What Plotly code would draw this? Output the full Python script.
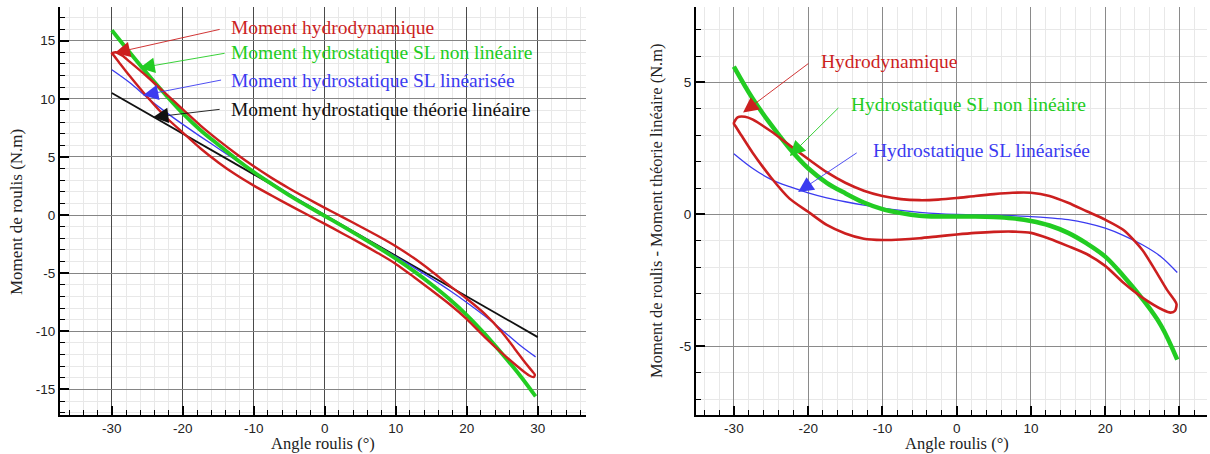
import plotly.graph_objects as go

# ---------------- data ----------------
# Left panel: roll moment (N.m) vs roll angle (deg)
lin_x = [-30, 30]
lin_y = [10.5, -10.5]

sl_x = [-30, -27.5, -25, -22.5, -20, -17.5, -15, -12.5, -10, -7.5, -5, -2.5, 0,
        2.5, 5, 7.5, 10, 12.5, 15, 17.5, 20, 22.5, 25, 27.5, 29.7]
slnl_y = [15.9, 14.0, 12.15, 10.4, 8.75, 7.3, 6.05, 4.83, 3.7, 2.68, 1.7, 0.8, -0.08,
          -0.95, -1.85, -2.78, -3.75, -4.8, -5.95, -7.2, -8.6, -10.2, -11.95, -13.8, -15.6]
sllin_y = [12.5, 11.4, 10.1, 8.9, 7.8, 6.75, 5.73, 4.72, 3.74, 2.78, 1.83, 0.9, 0.0,
           -0.9, -1.78, -2.68, -3.58, -4.5, -5.45, -6.45, -7.52, -8.67, -9.9, -11.2, -12.2]

hyd_x = [-30, -29.5, -28.5, -27.5, -25, -22.5, -20, -17.5, -15, -12.5, -10, -7.5, -5, -2.5, 0,
         2.5, 5, 7.5, 10, 12.5, 15, 17.5, 20, 22.5, 25, 26.7, 28.3, 29.2, 29.6,
         29.4, 28.8, 27.8, 25, 22.5, 20, 17.5, 15, 12.5, 10, 7.5, 5, 2.5, 0,
         -2.5, -5, -7.5, -10, -12.5, -15, -17.5, -20, -22.5, -25, -27.5, -29, -29.8, -30]
hyd_y = [13.9, 14.0, 13.7, 13.2, 11.9, 10.5, 9.1, 7.7, 6.45, 5.28, 4.2, 3.2, 2.29, 1.44, 0.62,
         -0.18, -0.98, -1.8, -2.68, -3.68, -4.81, -6.03, -7.2, -8.48, -10.1, -11.45, -12.75, -13.42, -13.76,
         -13.94, -13.8, -13.35, -11.9, -10.48, -8.95, -7.63, -6.45, -5.3, -4.2, -3.28, -2.41, -1.58, -0.76,
         0.05, 0.85, 1.68, 2.53, 3.46, 4.53, 5.73, 7.1, 8.48, 10.15, 11.98, 13.15, 13.78, 13.9]

# Right panel: roll moment minus linear-theory moment (N.m)
dslnl_y = [5.6, 4.4, 3.4, 2.5, 1.75, 1.2, 0.8, 0.45, 0.2, 0.05, -0.05, -0.08, -0.08,
           -0.08, -0.1, -0.15, -0.25, -0.42, -0.7, -1.1, -1.6, -2.35, -3.2, -4.2, -5.5]
dsllin_y = [2.3, 1.75, 1.33, 1.05, 0.82, 0.63, 0.48, 0.35, 0.24, 0.15, 0.08, 0.03, 0.0,
            -0.02, -0.03, -0.05, -0.08, -0.13, -0.2, -0.33, -0.52, -0.8, -1.15, -1.6, -2.2]
dhyd_y = [3.45, 3.68, 3.7, 3.6, 3.15, 2.62, 2.1, 1.6, 1.2, 0.9, 0.7, 0.58, 0.54, 0.56, 0.62,
          0.7, 0.77, 0.82, 0.82, 0.7, 0.44, 0.12, -0.2, -0.6, -1.35, -2.1, -2.85, -3.2, -3.4,
          -3.65, -3.72, -3.62, -3.15, -2.6, -1.95, -1.5, -1.2, -0.92, -0.7, -0.65, -0.66, -0.7, -0.76,
          -0.83, -0.9, -0.95, -0.97, -0.92, -0.72, -0.4, 0.1, 0.6, 1.4, 2.35, 3.0, 3.35, 3.45]

left_labels = ["Moment hydrodynamique", "Moment hydrostatique SL non linéaire",
               "Moment hydrostatique SL linéarisée", "Moment hydrostatique théorie linéaire"]
right_labels = ["Hydrodynamique", "Hydrostatique SL non linéaire", "Hydrostatique SL linéarisée"]

x_ticks = [-30, -20, -10, 0, 10, 20, 30]
x_ticktext = ["-30", "-20", "-10", "0", "10", "20", "30"]
yl_ticks = [-15, -10, -5, 0, 5, 10, 15]
yl_ticktext = ["-15", "-10", "-5", "0", "5", "10", "15"]
yr_ticks = [-5, 0, 5]
yr_ticktext = ["-5", "0", "5"]

RED = "#cc1f1f"
GREEN = "#22cc22"
BLUE = "#3b3bf0"
BLACK = "#111111"
SERIF = "Liberation Serif, Times New Roman, serif"
SANS = "Liberation Sans, Arial, sans-serif"

fig = go.Figure()

# left panel
fig.add_trace(go.Scatter(x=lin_x, y=lin_y, mode="lines", line=dict(color=BLACK, width=1.8),
                         xaxis="x", yaxis="y", showlegend=False))
fig.add_trace(go.Scatter(x=sl_x, y=sllin_y, mode="lines", line=dict(color=BLUE, width=1.3, shape="spline"),
                         xaxis="x", yaxis="y", showlegend=False))
fig.add_trace(go.Scatter(x=sl_x, y=slnl_y, mode="lines", line=dict(color=GREEN, width=3.8, shape="spline"),
                         xaxis="x", yaxis="y", showlegend=False))
fig.add_trace(go.Scatter(x=hyd_x, y=hyd_y, mode="lines", line=dict(color=RED, width=2.4, shape="spline", smoothing=0.7),
                         xaxis="x", yaxis="y", showlegend=False))

# right panel
fig.add_trace(go.Scatter(x=sl_x, y=dsllin_y, mode="lines", line=dict(color=BLUE, width=1.3, shape="spline"),
                         xaxis="x2", yaxis="y2", showlegend=False))
fig.add_trace(go.Scatter(x=sl_x, y=dslnl_y, mode="lines", line=dict(color=GREEN, width=4.5, shape="spline"),
                         xaxis="x2", yaxis="y2", showlegend=False))
fig.add_trace(go.Scatter(x=hyd_x, y=dhyd_y, mode="lines", line=dict(color=RED, width=2.6, shape="spline", smoothing=0.7),
                         xaxis="x2", yaxis="y2", showlegend=False))


def axis(domain, rng, tv, tt, mdtick, gridcolor, anchor):
    return dict(domain=domain, range=rng, tickmode="array", tickvals=tv, ticktext=tt, anchor=anchor,
                automargin=False,
                ticks="inside", ticklen=9, tickwidth=2, tickcolor="black",
                showline=True, linewidth=2, linecolor="black", mirror=False,
                showgrid=True, gridcolor=gridcolor, gridwidth=1, zeroline=False,
                tickfont=dict(family=SANS, size=13.5, color="#222"),
                minor=dict(dtick=mdtick, tick0=0, ticks="inside", ticklen=5, tickwidth=1, tickcolor="black",
                           showgrid=True, gridcolor="#e8e8e8", gridwidth=1))


ydom = [0.0859, 0.9846]
fig.update_layout(
    width=1210, height=454,
    margin=dict(l=0, r=0, t=0, b=0, autoexpand=False),
    paper_bgcolor="white", plot_bgcolor="white",
    xaxis=axis([0.0496, 0.4843], [-37.3, 36.8], x_ticks, x_ticktext, 2, "#4a4a4a", "y"),
    yaxis=axis(ydom, [-17.2, 17.9], yl_ticks, yl_ticktext, 1, "#858585", "x"),
    xaxis2=axis([0.5752, 0.9975], [-35.1, 33.7], x_ticks, x_ticktext, 2, "#8a8a8a", "y2"),
    yaxis2=axis(ydom, [-7.6, 7.86], yr_ticks, yr_ticktext, 1, "#8a8a8a", "x2"),
)

ann = []
# axis titles
ann += [
    dict(text="Angle roulis (°)", xref="paper", yref="paper", x=323 / 1210, y=1 - 443 / 454,
         xanchor="center", yanchor="middle",
         showarrow=False, font=dict(family=SERIF, size=16.5, color="#222")),
    dict(text="Moment de roulis (N.m)", xref="paper", yref="paper", x=16 / 1210, y=1 - 212 / 454,
         xanchor="center", yanchor="middle",
         textangle=-90, showarrow=False, font=dict(family=SERIF, size=17, color="#222")),
    dict(text="Angle roulis (°)", xref="paper", yref="paper", x=957 / 1210, y=1 - 443 / 454,
         xanchor="center", yanchor="middle",
         showarrow=False, font=dict(family=SERIF, size=16.5, color="#222")),
    dict(text="Moment de roulis - Moment théorie linéaire (N.m)", xref="paper", yref="paper",
         x=656 / 1210, y=1 - 210 / 454, xanchor="center", yanchor="middle",
         textangle=-90, showarrow=False, font=dict(family=SERIF, size=16.5, color="#222")),
]

# left labels and arrows
left_cols = [RED, GREEN, BLUE, BLACK]
left_text_y = [16.1, 14.0, 11.55, 9.05]
left_tip = [(-29.6, 13.95), (-26.1, 12.65), (-25.6, 10.3), (-24.2, 8.42)]
left_tail = [(-14.6, 16.0), (-13.9, 13.94), (-14.4, 11.64), (-14.6, 9.11)]
for lab, c, ty, tip, tail in zip(left_labels, left_cols, left_text_y, left_tip, left_tail):
    ann.append(dict(text=lab, xref="x", yref="y", x=-13.5, y=ty, xanchor="left", yanchor="middle",
                    showarrow=False, font=dict(family=SERIF, size=19.5, color=c)))
    ann.append(dict(text="", xref="x", yref="y", axref="x", ayref="y", x=tip[0], y=tip[1],
                    ax=tail[0], ay=tail[1], showarrow=True, arrowhead=2, arrowsize=3.4,
                    arrowwidth=0.9, arrowcolor=c))

right_cols = [RED, GREEN, BLUE]
right_text = [(-18.5, 5.8), (-14.5, 4.18), (-11.55, 2.44)]
right_tip = [(-28.76, 3.86), (-22.47, 2.21), (-21.35, 0.85)]
right_tail = [(-19.77, 5.76), (-15.73, 4.09), (-13.26, 2.37)]
for lab, c, tp, tip, tail in zip(right_labels, right_cols, right_text, right_tip, right_tail):
    ann.append(dict(text=lab, xref="x2", yref="y2", x=tp[0], y=tp[1], xanchor="left", yanchor="middle",
                    showarrow=False, font=dict(family=SERIF, size=19.5, color=c)))
    ann.append(dict(text="", xref="x2", yref="y2", axref="x2", ayref="y2", x=tip[0], y=tip[1],
                    ax=tail[0], ay=tail[1], showarrow=True, arrowhead=2, arrowsize=3.4,
                    arrowwidth=0.9, arrowcolor=c))

fig.update_layout(annotations=ann)
fig.write_html("out.html", config={"displayModeBar": False},
               post_script="document.body.style.margin='0';document.body.style.padding='0';"
                           "document.body.style.overflow='hidden';")
